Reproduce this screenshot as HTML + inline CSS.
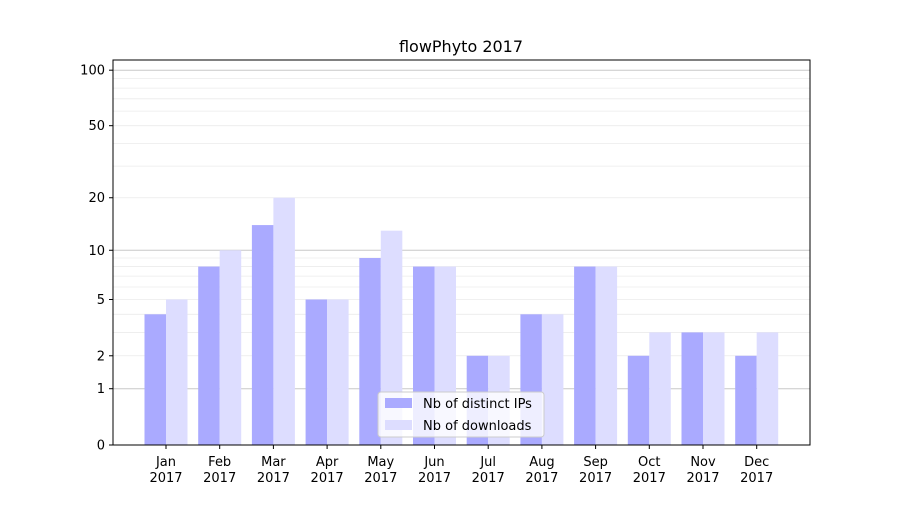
<!DOCTYPE html>
<html><head><meta charset="utf-8"><style>
body{margin:0;background:#fff;font-family:"Liberation Sans","DejaVu Sans",sans-serif}
</style></head><body>
<svg id="chart" width="900" height="500" xmlns="http://www.w3.org/2000/svg" font-family="DejaVu Sans, Liberation Sans, sans-serif">
<rect width="900" height="500" fill="#fff"/>
<text x="461" y="52" font-size="16" text-anchor="middle">flowPhyto 2017</text>
<g id="grid"></g><g id="bars"></g><g id="axes"></g>
</svg>
<script>
const months=["Jan","Feb","Mar","Apr","May","Jun","Jul","Aug","Sep","Oct","Nov","Dec"];
const ips=[4,8,14,5,9,8,2,4,8,2,3,2];
const downloads=[5,10,20,5,13,8,2,4,8,3,3,3];
const yTicks=[0,1,2,5,10,20,50,100];
const NS="http://www.w3.org/2000/svg";
const L=113,R=810,T=60,B=445,K=187;
function y(v){return B-K*Math.log10(1+v);}
function xc(i){return 166+i*53.7;}
function mk(tag,attrs,parent){const e=document.createElementNS(NS,tag);for(const k in attrs)e.setAttribute(k,attrs[k]);parent.appendChild(e);return e;}
const grid=document.getElementById('grid'),bars=document.getElementById('bars'),axes=document.getElementById('axes');
const minors=[2,3,4,5,6,7,8,9,20,30,40,50,60,70,80,90];
minors.forEach(v=>{const l=mk('line',{x1:L,x2:R,y1:y(v),y2:y(v),stroke:'#ebebeb','stroke-width':0.8},grid);

});
[1,10,100].forEach(v=>{const l=mk('line',{x1:L,x2:R,y1:y(v),y2:y(v),stroke:'#c8c8c8','stroke-width':1},grid);

});
months.forEach((m,i)=>{
 const c=xc(i);
 const b1=mk('rect',{x:c-21.5,y:y(ips[i]),width:21.5,height:B-y(ips[i]),fill:'#aaaaff'},bars);
 
 
 const b2=mk('rect',{x:c,y:y(downloads[i]),width:21.5,height:B-y(downloads[i]),fill:'#ddddff'},bars);
 
 
 mk('line',{x1:c,x2:c,y1:B,y2:B+4,stroke:'#000'},axes);
 const t=mk('text',{x:c,y:B+21,'font-size':13,'text-anchor':'middle'},axes);
 
 
 t.innerHTML='<tspan x="'+c+'">'+m+'</tspan><tspan x="'+c+'" dy="16">2017</tspan>';
});
yTicks.forEach(v=>{
 mk('line',{x1:L-4,x2:L,y1:y(v),y2:y(v),stroke:'#000'},axes);
 const t=mk('text',{x:L-8,y:y(v)+4.5,'font-size':13,'text-anchor':'end'},axes);
 
 
 t.textContent=v;
});
const frame=mk('rect',{x:L,y:T,width:R-L,height:B-T,fill:'none',stroke:'#000','stroke-width':1},axes);


const lg=mk('g',{},axes);


mk('rect',{x:378,y:392,width:166,height:45,rx:3,fill:'rgba(255,255,255,0.8)',stroke:'#ccc'},lg);
mk('rect',{x:385,y:398,width:27,height:10,fill:'#aaaaff'},lg);
mk('rect',{x:385,y:420,width:27,height:10,fill:'#ddddff'},lg);
const t1=mk('text',{x:423,y:408,'font-size':13},lg);t1.textContent='Nb of distinct IPs';


const t2=mk('text',{x:423,y:430,'font-size':13},lg);t2.textContent='Nb of downloads';


</script>
</body></html>
